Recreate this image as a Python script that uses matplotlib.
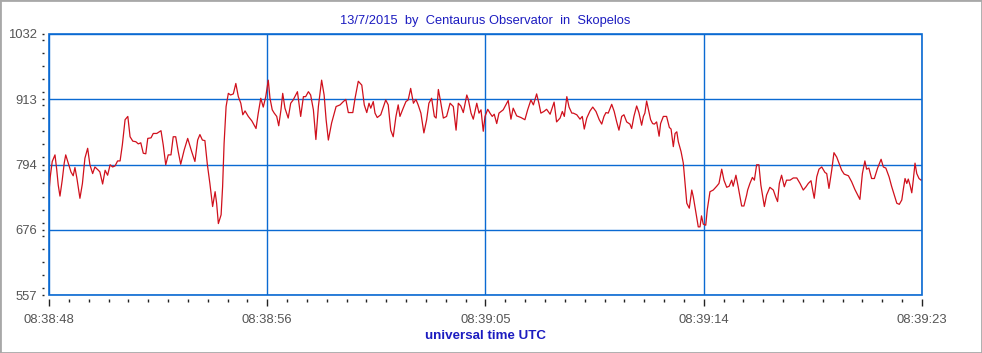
import matplotlib.pyplot as plt
from matplotlib.patches import Rectangle
from matplotlib.ticker import FixedLocator, MultipleLocator
import numpy as np

# seconds after 08:38:48 UTC
t = [0.00, 0.05, 0.13, 0.24, 0.31, 0.37, 0.44, 0.53, 0.61, 0.67, 0.77, 0.88, 0.97, 1.04, 1.12, 1.24,
     1.34, 1.44, 1.55, 1.64, 1.75, 1.84, 1.98, 2.04, 2.15, 2.25, 2.35, 2.45, 2.55, 2.65, 2.75, 2.85,
     2.94, 3.05, 3.16, 3.25, 3.36, 3.48, 3.58, 3.68, 3.78, 3.88, 3.96, 4.09, 4.18, 4.32, 4.49, 4.58,
     4.68, 4.78, 4.89, 4.98, 5.08, 5.18, 5.28, 5.42, 5.56, 5.72, 5.85, 5.96, 6.05, 6.15, 6.25, 6.35,
     6.45, 6.56, 6.66, 6.72, 6.79, 6.90, 6.96, 7.02, 7.10, 7.19, 7.28, 7.39, 7.49, 7.59, 7.69, 7.77,
     7.86, 7.99, 8.13, 8.30, 8.39, 8.49, 8.59, 8.69, 8.79, 8.86, 8.95, 9.03, 9.13, 9.21, 9.30, 9.37,
     9.46, 9.59, 9.69, 9.79, 9.96, 10.09, 10.20, 10.29, 10.40, 10.49, 10.60, 10.70, 10.80, 10.93, 11.03, 11.11,
     11.20, 11.33, 11.51, 11.67, 11.80, 11.90, 12.00, 12.18, 12.27, 12.40, 12.54, 12.64, 12.74, 12.83, 12.90, 13.00,
     13.07, 13.16, 13.30, 13.50, 13.60, 13.70, 13.80, 13.91, 14.00, 14.07, 14.20, 14.31, 14.40, 14.50, 14.61, 14.71,
     14.80, 14.91, 15.03, 15.14, 15.23, 15.34, 15.45, 15.52, 15.61, 15.70, 15.81, 15.94, 16.08, 16.21, 16.32, 16.41,
     16.51, 16.61, 16.75, 16.81, 16.92, 17.01, 17.15, 17.24, 17.32, 17.41, 17.48, 17.59, 17.68, 17.77, 17.85, 17.95,
     18.04, 18.21, 18.41, 18.52, 18.61, 18.75, 18.92, 19.08, 19.19, 19.32, 19.42, 19.55, 19.64, 19.72, 19.84, 19.95,
     20.09, 20.25, 20.35, 20.49, 20.58, 20.66, 20.76, 20.85, 20.96, 21.02, 21.16, 21.29, 21.38, 21.46, 21.56, 21.69,
     21.80, 21.93, 22.06, 22.16, 22.25, 22.33, 22.42, 22.56, 22.66, 22.76, 22.85, 22.96, 23.05, 23.16, 23.29, 23.36,
     23.45, 23.56, 23.65, 23.76, 23.83, 23.89, 23.96, 24.03, 24.12, 24.20, 24.27, 24.36, 24.46, 24.52, 24.63, 24.76,
     24.87, 24.94, 25.03, 25.10, 25.17, 25.23, 25.34, 25.43, 25.50, 25.57, 25.67, 25.77, 25.83, 25.94, 26.03, 26.10,
     26.16, 26.23, 26.33, 26.39, 26.50, 26.63, 26.77, 26.86, 26.97, 27.06, 27.17, 27.27, 27.37, 27.43, 27.54, 27.63,
     27.77, 27.86, 27.97, 28.01, 28.10, 28.20, 28.28, 28.37, 28.46, 28.54, 28.68, 28.77, 28.90, 29.04, 29.13, 29.21,
     29.28, 29.37, 29.48, 29.57, 29.71, 29.84, 29.98, 30.11, 30.24, 30.35, 30.44, 30.55, 30.62, 30.68, 30.78, 30.87,
     30.98, 31.11, 31.18, 31.27, 31.38, 31.47, 31.58, 31.67, 31.78, 31.88, 32.05, 32.18, 32.31, 32.51, 32.61, 32.71,
     32.78, 32.87, 32.98, 33.09, 33.22, 33.36, 33.45, 33.55, 33.68, 33.78, 33.89, 33.99, 34.09, 34.19, 34.25, 34.32,
     34.39, 34.45, 34.52, 34.59, 34.65, 34.72, 34.79, 34.88, 34.99, 35.00]

v = [745, 772, 800, 812, 785, 757, 737, 766, 797, 812, 797, 781, 774, 789, 769, 733,
     760, 806, 824, 794, 778, 790, 784, 781, 759, 784, 775, 794, 790, 792, 801, 801,
     830, 876, 882, 845, 837, 836, 832, 834, 815, 814, 842, 843, 851, 851, 856, 830,
     794, 812, 812, 845, 845, 818, 795, 821, 842, 818, 800, 839, 849, 839, 838, 794,
     760, 718, 745, 724, 687, 703, 754, 833, 900, 924, 921, 923, 942, 918, 906, 885,
     892, 882, 874, 860, 888, 915, 899, 918, 948, 915, 894, 888, 882, 865, 894, 924,
     897, 879, 906, 912, 927, 882, 918, 918, 927, 921, 894, 840, 900, 948, 921, 876,
     839, 870, 900, 903, 909, 913, 889, 889, 915, 946, 939, 903, 889, 906, 897, 909,
     888, 880, 885, 912, 903, 857, 845, 882, 903, 882, 897, 909, 912, 933, 906, 913,
     903, 888, 852, 876, 906, 915, 882, 879, 931, 909, 879, 882, 906, 900, 857, 906,
     901, 889, 921, 913, 888, 877, 906, 888, 894, 855, 882, 895, 888, 882, 886, 869,
     888, 894, 911, 877, 897, 883, 880, 876, 894, 912, 903, 923, 906, 888, 891, 895,
     886, 908, 872, 879, 891, 882, 918, 899, 888, 888, 885, 877, 882, 859, 879, 892,
     899, 891, 876, 868, 882, 889, 888, 904, 891, 872, 857, 882, 885, 872, 868, 860,
     882, 901, 889, 866, 882, 888, 910, 895, 876, 869, 868, 872, 846, 869, 882, 882,
     862, 859, 827, 851, 854, 836, 818, 797, 760, 724, 715, 748, 736, 706, 681, 681,
     701, 686, 684, 712, 745, 748, 755, 760, 786, 766, 753, 755, 766, 755, 775, 754,
     719, 719, 739, 748, 760, 771, 766, 794, 794, 757, 718, 739, 753, 748, 736, 727,
     760, 775, 754, 766, 766, 770, 770, 760, 748, 754, 760, 765, 747, 733, 772, 786,
     790, 780, 778, 751, 784, 816, 808, 797, 784, 777, 774, 763, 749, 731, 778, 801,
     786, 788, 769, 769, 788, 804, 790, 788, 772, 755, 739, 724, 722, 730, 749, 769,
     760, 768, 757, 743, 766, 797, 778, 769, 765, 767]

x_ticks = [0, 8.75, 17.5, 26.25, 35]
x_labels = ['08:38:48', '08:38:56', '08:39:05', '08:39:14', '08:39:23']
y_min, y_max = 557, 1032
y_ticks = [557, 675.75, 794.5, 913.25, 1032]

blue = '#0a6ad2'
red = '#d0101c'

plt.rcParams['font.family'] = ['Liberation Sans', 'DejaVu Sans']

fig = plt.figure(figsize=(9.82, 3.53), dpi=100)
ax = fig.add_axes([49 / 982, 1 - 295 / 353, 873 / 982, 261 / 353])

ax.plot(t, v, color=red, lw=0.9, zorder=3)

ax.set_xlim(0, 35)
ax.set_ylim(y_min, y_max)

ax.xaxis.set_major_locator(FixedLocator(x_ticks))
ax.set_xticklabels(x_labels)
ax.xaxis.set_minor_locator(MultipleLocator(35 / 44))
ax.yaxis.set_major_locator(FixedLocator(y_ticks))
ax.set_yticklabels([str(int(round(y))) for y in y_ticks])
ax.yaxis.set_minor_locator(MultipleLocator((y_max - y_min) / 20))

ax.grid(True, which='major', color=blue, lw=1.0)

for s in ax.spines.values():
    s.set_visible(False)
ax.spines['left'].set_position(('outward', 3.5))
ax.spines['bottom'].set_position(('outward', 3))

ax.add_patch(Rectangle((0, 0), 1, 1, transform=ax.transAxes, fill=False,
                       edgecolor=blue, lw=1.2, clip_on=False, zorder=4))

ax.tick_params(axis='x', which='major', length=5, width=1, color='#222222',
               labelsize=9.4, labelcolor='#555555', pad=6)
ax.tick_params(axis='x', which='minor', length=2.5, width=1, color='#222222')
ax.tick_params(axis='y', which='both', length=1.8, width=1, color='#222222',
               labelsize=9.4, labelcolor='#555555', pad=3)

ax.set_title('13/7/2015  by  Centaurus Observator  in  Skopelos',
             fontsize=9.3, color='#1c1cc0', pad=7)
ax.set_xlabel('universal time UTC', fontsize=9.6, fontweight='bold',
              color='#1c1cc0', labelpad=2.5)

fig.patches.append(Rectangle((0, 0), 1, 1, transform=fig.transFigure, fill=False,
                             edgecolor='#a8a8a8', lw=2, zorder=0))

fig.savefig('out.png', dpi=100)
